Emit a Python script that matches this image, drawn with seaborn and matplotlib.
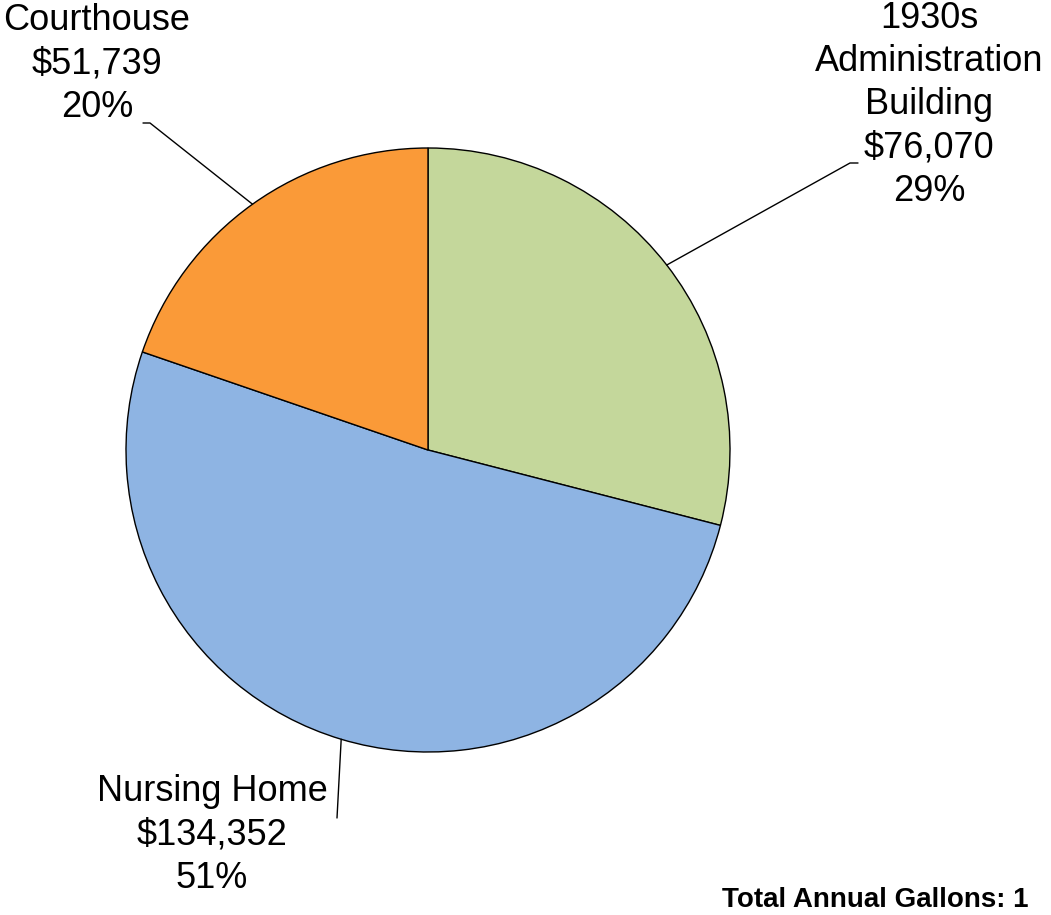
import numpy as np
import matplotlib
matplotlib.use('Agg')
import matplotlib.pyplot as plt
import seaborn as sns

sns.set_theme(style='white')
plt.rcParams['font.family'] = ['Liberation Sans', 'DejaVu Sans']

# Data
buildings = ['1930s\nAdministration\nBuilding', 'Nursing Home', 'Courthouse']
costs = [76070, 134352, 51739]
colors = ['#C4D79B', '#8EB4E3', '#FA9A38']

total = sum(costs)
shares = [c / total for c in costs]

W, H = 1051, 915
fig = plt.figure(figsize=(W / 100, H / 100), dpi=100)
ax = fig.add_axes([0, 0, 1, 1])

cx, cy, r = 428, H - 450, 302
wedges, _ = ax.pie(costs, colors=colors, startangle=90, counterclock=False,
                   center=(cx, cy), radius=r, frame=True,
                   wedgeprops=dict(edgecolor='black', linewidth=1))
ax.set_xlim(0, W)
ax.set_ylim(0, H)
ax.set_aspect('equal')
ax.axis('off')

# label anchors (x, y from top) and elbow end
label_pos = [(929, 105), (212, 835), (97, 64)]
elbows = [((850, 163), (858, 163)), ((337, 818), None), ((150, 123), (143, 123))]

for w, name, cost, sh, (lx, ly), (e1, e2) in zip(wedges, buildings, costs, shares, label_pos, elbows):
    mid = np.deg2rad((w.theta1 + w.theta2) / 2)
    px, py = cx + r * np.cos(mid), cy + r * np.sin(mid)
    xs = [px, e1[0]]
    ys = [py, H - e1[1]]
    if e2 is not None:
        xs.append(e2[0])
        ys.append(H - e2[1])
    ax.plot(xs, ys, color='black', linewidth=1)
    txt = f"{name}\n${cost:,}\n{sh * 100:.0f}%"
    ax.text(lx, H - ly, txt, ha='center', va='center', fontsize=26,
            linespacing=1.3, color='black')

ax.text(722, 8, 'Total Annual Gallons: 1', ha='left', va='baseline',
        fontsize=20, fontweight='bold', color='black')

fig.savefig('out.png', dpi=100)
